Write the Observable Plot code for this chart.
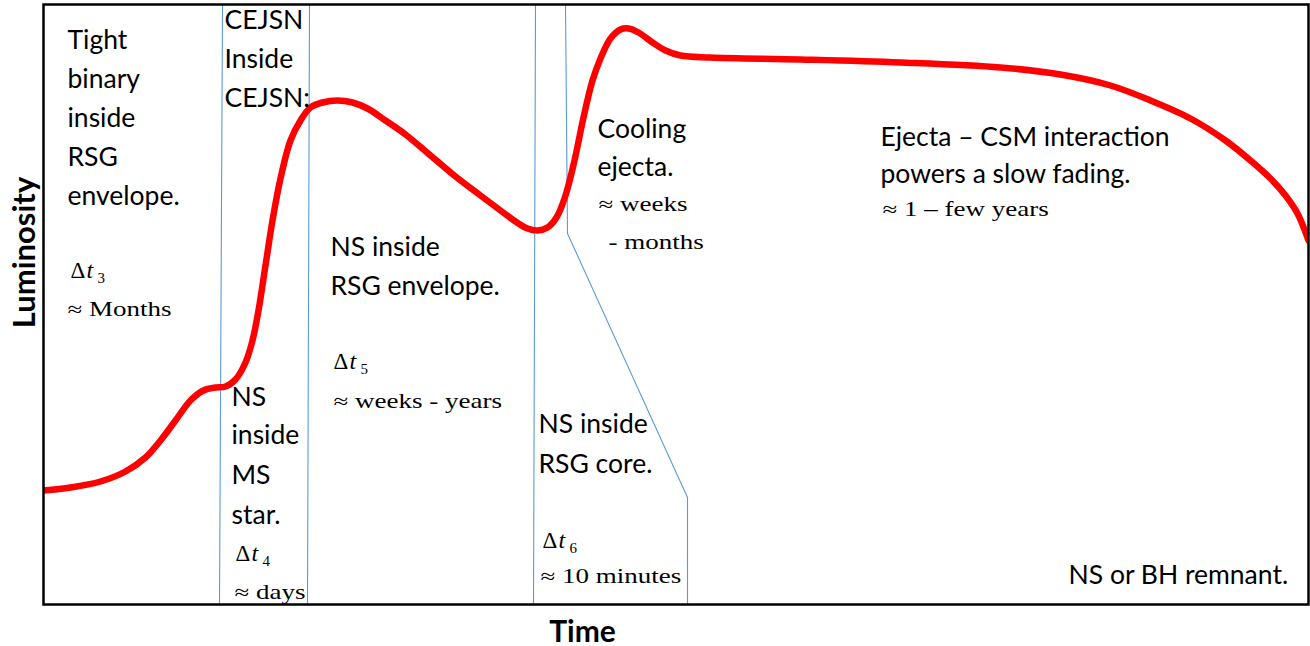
<!DOCTYPE html>
<html><head><meta charset="utf-8">
<script src="https://cdn.jsdelivr.net/npm/d3@7"></script>
<script src="https://cdn.jsdelivr.net/npm/@observablehq/plot@0.6"></script>
<style>body{margin:0;background:#fff;}</style>
</head><body><div id="chart"></div>
<script>
// Light curve (arbitrary time units, arbitrary luminosity units)
const curveTime = [0,27,57,82,102,117,132,147,160,172,182,192,202,209,215,222,229,237,247,257,267,279,294,309,324,342,362,387,412,437,457,472,484,494,504,513,522,531,540,549,557,567,577,585,595,609,622,637,667,757,857,957,1017,1067,1107,1147,1182,1207,1227,1242,1254,1265];
const curveLum  = [114,117,123,133,147,164,184,204,214,217,218,225,242,264,294,339,384,426,464,484,497,502,504,502,496,484,470,449,428,409,394,383,376,374,377,387,409,444,487,524,546,566,575,576,572,562,554,549,547,545,542,537,530,519,504,486,464,444,426,409,391,364];

// Phase boundary guides
const guideId   = ["a","a","b","b","c","c","d","d","d","d"];
const guideTime = [179,176,266,264,492,490,522,524,644,644];
const guideLum  = [600,0,600,0,600,0,600,371,107,0];

// Phase descriptions (sans)
const sansText = ["Tight","binary","inside","RSG","envelope.","CEJSN","Inside","CEJSN:","NS inside","RSG envelope.","NS","inside","MS","star.","NS inside","RSG core.","Cooling","ejecta.","Ejecta – CSM interaction","powers a slow fading.","NS or BH remnant."];
const sansTime = [24,24,24,24,24,181,181,181,287,287,188,188,188,188,495,495,554,554,837,837,1025];
const sansLum  = [556,517,478,439,400,576,537,498,349,310,199,161,121,81,172,132,467,429,459,422,21];

// Durations (serif)
const serifText = ["≈ Months","≈ weeks - years","≈ days","≈ 10 minutes","≈ weeks","- months","≈ 1 – few years"];
const serifTime = [24,290,191,497,555,565,839];
const serifLum  = [289,197,6,22,394,356,389];

// Δt labels
const deltaSub  = ["3","5","4","6"];
const deltaTime = [27,290,192,499];
const deltaLum  = [327,236,44,57];

const curve = curveTime.map((t,i)=>({t, L: curveLum[i]}));
const guides = guideTime.map((t,i)=>({id: guideId[i], t, L: guideLum[i]}));
const sans = sansText.map((s,i)=>({s, t: sansTime[i], L: sansLum[i]}));
const serif = serifText.map((s,i)=>({s, t: serifTime[i], L: serifLum[i]}));
const deltas = deltaSub.map((s,i)=>({s, t: deltaTime[i], L: deltaLum[i]}));

const chart = Plot.plot({
  width: 1310, height: 646,
  marginLeft: 43, marginRight: 2, marginTop: 4, marginBottom: 42,
  x: {domain: [0,1265], axis: null},
  y: {domain: [0,600], axis: null},
  style: {background: "white", overflow: "visible"},
  marks: [
    Plot.line(guides, {x: "t", y: "L", z: "id", stroke: "#5b9bd5", strokeWidth: 1.1}),
    Plot.line(curve, {x: "t", y: "L", curve: "catmull-rom", stroke: "#ff0000", strokeWidth: 6.5, clip: true}),
    Plot.frame({stroke: "black", strokeWidth: 2.5}),
    Plot.text(sans, {x: "t", y: "L", text: "s", textAnchor: "start", lineAnchor: "bottom", fontFamily: "Lato", fontSize: 26.5, fill: "black"}),
    Plot.text(serif, {x: "t", y: "L", text: "s", textAnchor: "start", lineAnchor: "bottom", fontFamily: "Liberation Serif", fontSize: 20, fill: "black"}),
    Plot.text(deltas, {x: "t", y: "L", text: () => "Δ", textAnchor: "start", lineAnchor: "bottom", fontFamily: "Times New Roman", fontSize: 23, fill: "black"}),
    Plot.text(deltas, {x: "t", y: "L", text: () => "t", dx: 16, textAnchor: "start", lineAnchor: "bottom", fontFamily: "Times New Roman", fontStyle: "italic", fontSize: 24, fill: "black"}),
    Plot.text(deltas, {x: "t", y: "L", text: "s", dx: 27, dy: 5, textAnchor: "start", lineAnchor: "bottom", fontFamily: "Times New Roman", fontSize: 15, fill: "black"}),
    Plot.text(["Time"], {x: 539, y: -37, text: d => d, textAnchor: "middle", lineAnchor: "bottom", fontFamily: "Lato", fontWeight: "bold", fontSize: 30, fill: "black"}),
    Plot.text(["Luminosity"], {x: -18, y: 352, text: d => d, rotate: -90, textAnchor: "middle", lineAnchor: "middle", fontFamily: "Lato", fontWeight: "bold", fontSize: 31, fill: "black"})
  ]
});
document.getElementById("chart").appendChild(chart);

// Stretch the serif duration texts horizontally (as in the original equation images)
chart.querySelectorAll('g[font-family="Liberation Serif"] text').forEach(el => {
  const x = +el.getAttribute("x") || 0, y = +el.getAttribute("y") || 0;
  const tr = el.getAttribute("transform") || "";
  el.removeAttribute("x"); el.removeAttribute("y");
  el.setAttribute("transform", `${tr} translate(${x},${y}) scale(1.35,1)`);
});
</script>
</body></html>
